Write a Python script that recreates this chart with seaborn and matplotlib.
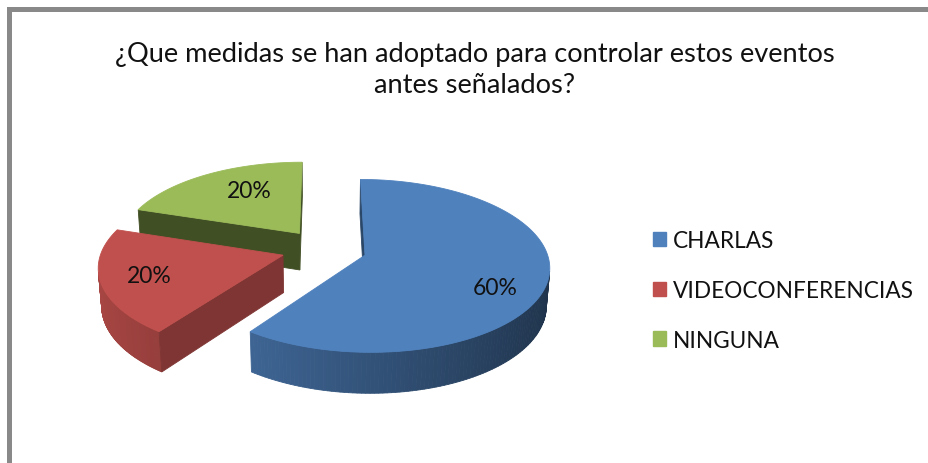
import numpy as np
import matplotlib
matplotlib.use("Agg")
import matplotlib.pyplot as plt
from matplotlib.patches import Polygon, Rectangle, Patch
from matplotlib.colors import to_rgb
import seaborn as sns

# ---- data -------------------------------------------------------------
categories = ["CHARLAS", "VIDEOCONFERENCIAS", "NINGUNA"]
values = [60, 20, 20]
colors = ["#4F81BD", "#C0504D", "#9BBB59"]
title = "¿Que medidas se han adoptado para controlar estos eventos\nantes señalados?"

# ---- style ------------------------------------------------------------
sns.set_theme(style="white")
plt.rcParams["font.family"] = ["Lato", "DejaVu Sans"]
palette = sns.color_palette(colors)

W, H = 929, 464
fig = plt.figure(figsize=(W / 100, H / 100), dpi=100)
fig.patch.set_facecolor("white")
ax = fig.add_axes([0, 0, 1, 1])
ax.set_xlim(0, W)
ax.set_ylim(H, 0)
ax.axis("off")

# ---- perspective camera for the 3-D pie -------------------------------
# world: unit-radius disc in the X/Y plane (Y away from viewer), Z up
OX, OY = 324.0, 250.0          # screen position of the disc centre
SCALE = 181.0                  # pixels per world unit at the centre
PHI = np.deg2rad(27.5)         # elevation of the camera
DIST = 7.2                     # camera distance
THICK = 0.235                  # disc thickness
EXPLODE = 0.236                # radial offset of every slice
CAM = np.array([0.0, -DIST * np.cos(PHI), DIST * np.sin(PHI)])


def project(X, Y, Z=0.0):
    yc = Y * np.sin(PHI) + Z * np.cos(PHI)
    zc = DIST + Y * np.cos(PHI) - Z * np.sin(PHI)
    g = DIST / zc
    return OX + SCALE * X * g, OY - SCALE * yc * g


def facing(normal, point):
    return np.dot(normal, CAM - np.asarray(point)) > 0


def shade(rgb, f):
    return tuple(min(1.0, max(0.0, c * f)) for c in rgb)


total = float(sum(values))
fracs = np.array(values) / total
cum = np.concatenate([[0.0], np.cumsum(fracs)])

slices = []
for i in range(len(values)):
    a = np.deg2rad(90 - 360 * cum[i + 1])  # lower angle
    b = np.deg2rad(90 - 360 * cum[i])      # upper angle
    mid = 0.5 * (a + b)
    cx, cy = EXPLODE * np.cos(mid), EXPLODE * np.sin(mid)
    slices.append(dict(i=i, a=a, b=b, mid=mid, cx=cx, cy=cy))

# farthest slice first
order = sorted(slices, key=lambda s: -(s["cy"] + 0.5 * np.sin(s["mid"])))

cut_factor = [0.55, 0.66, 0.42]

for s in order:
    i, a, b, cx, cy = s["i"], s["a"], s["b"], s["cx"], s["cy"]
    base = to_rgb(palette[i])

    # curved outer wall, thin strips with side lighting
    ths = np.linspace(a, b, 181)
    for t1, t2 in zip(ths[:-1], ths[1:]):
        tm = 0.5 * (t1 + t2)
        pm = (cx + np.cos(tm), cy + np.sin(tm), 0.0)
        if not facing(np.array([np.cos(tm), np.sin(tm), 0.0]), pm):
            continue
        p1 = (cx + np.cos(t1), cy + np.sin(t1))
        p2 = (cx + np.cos(t2), cy + np.sin(t2))
        quad = [project(*p1, 0), project(*p2, 0), project(*p2, -THICK), project(*p1, -THICK)]
        col = shade(base, 0.64 - 0.24 * np.cos(tm))
        ax.add_patch(Polygon(quad, closed=True, facecolor=col, edgecolor=col, lw=0.6))

    # radial cut faces turned toward the camera
    for edge, normal in ((a, np.array([np.sin(a), -np.cos(a), 0.0])),
                         (b, np.array([-np.sin(b), np.cos(b), 0.0]))):
        if facing(normal, (cx, cy, 0.0)):
            ex, ey = cx + np.cos(edge), cy + np.sin(edge)
            quad = [project(cx, cy, 0), project(ex, ey, 0),
                    project(ex, ey, -THICK), project(cx, cy, -THICK)]
            col = shade(base, cut_factor[i])
            ax.add_patch(Polygon(quad, closed=True, facecolor=col, edgecolor=col, lw=0.6))

    # top face
    arc = np.linspace(a, b, 200)
    pts = [project(cx, cy)] + [project(cx + np.cos(t), cy + np.sin(t)) for t in arc]
    ax.add_patch(Polygon(pts, closed=True, facecolor=base, edgecolor=base, lw=0.6))

# percentage labels
label_r = [0.72, 0.74, 0.52]
label_dy = [13, 0, -11]
for s in slices:
    i, r = s["i"], label_r[s["i"]]
    lx, ly = project(s["cx"] + r * np.cos(s["mid"]), s["cy"] + r * np.sin(s["mid"]))
    ax.text(lx, ly + label_dy[i], f"{fracs[i] * 100:.0f}%", ha="center", va="center",
            fontsize=16.5, color="#111111")

# title
ax.text(475, 70, title, ha="center", va="center", fontsize=19.6, color="#111111",
        linespacing=1.33)

# legend
handles = [Patch(facecolor=palette[i], edgecolor=palette[i], label=c)
           for i, c in enumerate(categories)]
ax.legend(handles=handles, loc="upper left", bbox_to_anchor=(653, 231),
          bbox_transform=ax.transData, frameon=False, fontsize=16.3,
          handlelength=0.58, handleheight=0.58, handletextpad=0.32,
          labelspacing=1.27, borderaxespad=0, borderpad=0, labelcolor="#111111")

# chart-area frame (top and left edges)
ax.add_patch(Rectangle((7, 8), W - 7, 5, facecolor="#898989", edgecolor="none"))
ax.add_patch(Rectangle((7, 8), 5, H - 8, facecolor="#898989", edgecolor="none"))

fig.savefig("out.png", dpi=100, facecolor="white")
